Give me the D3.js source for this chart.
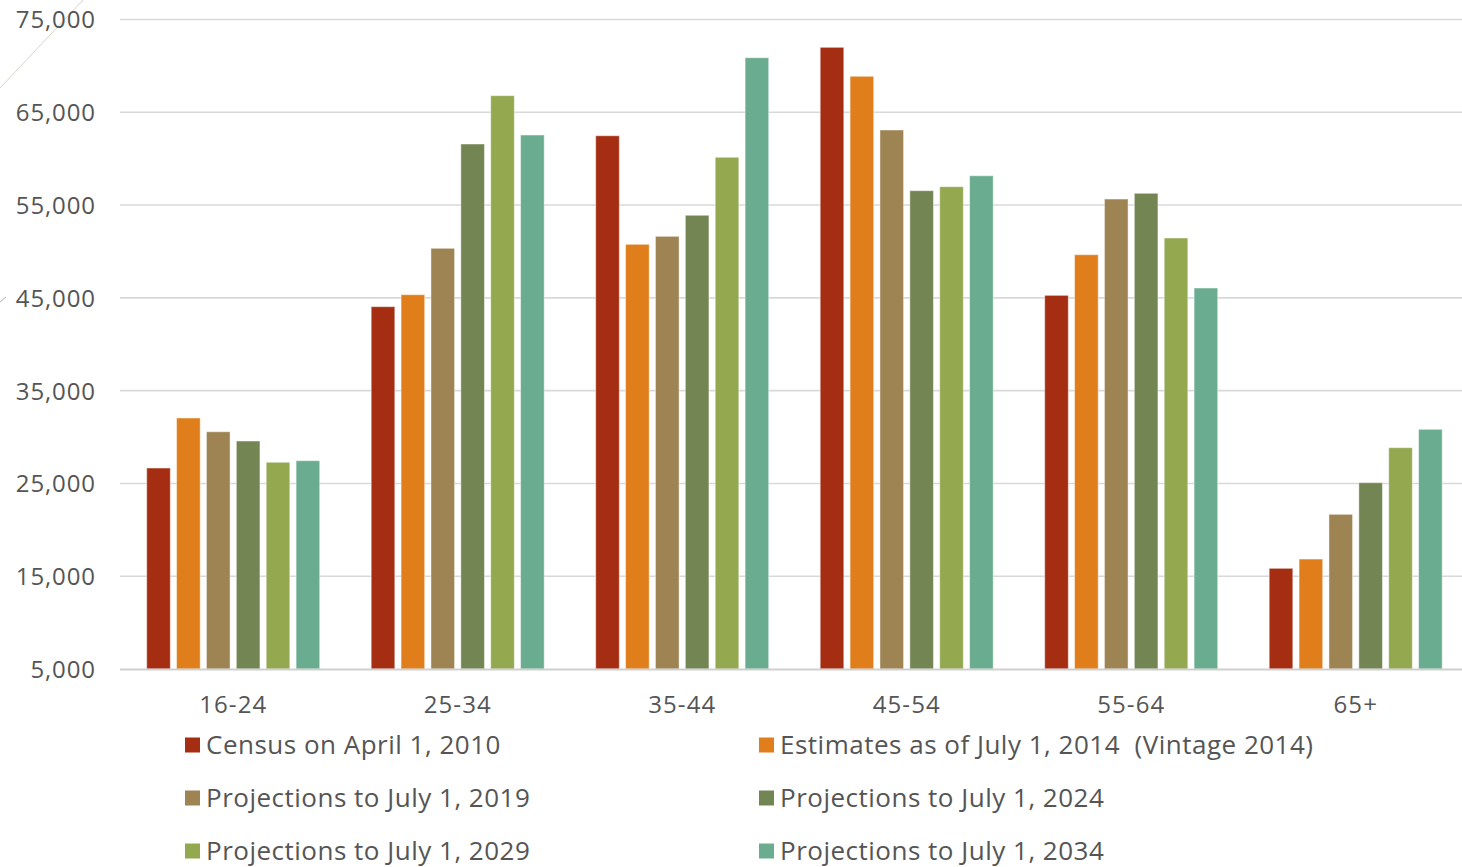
<!DOCTYPE html>
<html>
<head>
<meta charset="utf-8">
<script src="https://cdn.jsdelivr.net/npm/d3@7"></script>
<style>
  html, body { margin: 0; padding: 0; background: #ffffff; }
  svg { display: block; }
</style>
</head>
<body>
<svg id="chart" width="1462" height="867"></svg>
<script>
// ---- data ----
const categories = ["16-24", "25-34", "35-44", "45-54", "55-64", "65+"];
const seriesNames = [
  "Census on April 1, 2010",
  "Estimates as of July 1, 2014\u00a0\u00a0(Vintage 2014)",
  "Projections to July 1, 2019",
  "Projections to July 1, 2024",
  "Projections to July 1, 2029",
  "Projections to July 1, 2034"
];
const census2010   = [26660, 44050, 62470, 72000, 45270, 15850];
const estimate2014 = [32050, 45340, 50770, 68880, 49650, 16850];
const proj2019     = [30570, 50340, 51630, 63090, 55650, 21670];
const proj2024     = [29570, 61580, 53900, 56550, 56270, 25080];
const proj2029     = [27280, 66790, 60150, 56980, 51450, 28850];
const proj2034     = [27450, 62550, 70880, 58160, 46060, 30830];
const seriesValues = [census2010, estimate2014, proj2019, proj2024, proj2029, proj2034];
const colors = ["#A52E12", "#DF7E1A", "#9E8353", "#738553", "#93A84F", "#6AAC90"];
const yTicks = [5000, 15000, 25000, 35000, 45000, 55000, 65000, 75000];

// ---- layout ----
const svg = d3.select("#chart");
const plotLeft = 121, plotRight = 1462, yBottom = 669, yTop = 19.5;

const x0 = d3.scaleBand().domain(categories).range([plotLeft, plotLeft + 6 * 224.5]).padding(0);
const x1 = d3.scaleBand().domain(d3.range(seriesNames.length)).range([25.7, 198.7]).paddingInner(0.21).paddingOuter(0);
const y = d3.scaleLinear().domain([5000, 75000]).range([yBottom, yTop]);

// faint artifact lines on the left edge
svg.append("line").attr("x1", 0).attr("y1", 88).attr("x2", 83).attr("y2", 0)
  .attr("stroke", "#d8d2c8").attr("stroke-width", 1);
svg.append("line").attr("x1", 0).attr("y1", 302).attr("x2", 6).attr("y2", 297)
  .attr("stroke", "#b8b0a4").attr("stroke-width", 1);

// gridlines
const yAxis = d3.axisLeft(y).tickValues(yTicks).tickSize(0).tickPadding(0)
  .tickFormat(d3.format(","));
const gy = svg.append("g");
gy.selectAll("line.grid").data(yTicks.filter(d => d !== 5000)).join("line")
  .attr("class", "grid")
  .attr("x1", plotLeft - 1).attr("x2", plotRight)
  .attr("y1", d => y(d)).attr("y2", d => y(d))
  .attr("stroke", "#d9d9d9").attr("stroke-width", 1.6);

// y tick labels via axis
const ya = svg.append("g").attr("transform", `translate(96,0)`).call(yAxis);
ya.select(".domain").remove();
ya.selectAll("text")
  .attr("font-family", "'Open Sans', Roboto, sans-serif")
  .attr("font-size", 24)
  .attr("fill", "#555555")
  .attr("letter-spacing", 0.9)
  .attr("dy", "0.35em");

// bars
const groups = svg.append("g").selectAll("g").data(categories).join("g")
  .attr("transform", d => `translate(${x0(d)},0)`);
groups.selectAll("rect")
  .data((c, ci) => seriesValues.map((vals, si) => ({ si, v: vals[ci] })))
  .join("rect")
  .attr("x", d => x1(d.si))
  .attr("width", x1.bandwidth())
  .attr("y", d => y(d.v))
  .attr("height", d => y(5000) - y(d.v))
  .attr("fill", d => colors[d.si])
  .attr("stroke", "rgba(255,255,255,0.45)")
  .attr("stroke-width", 1);

// x axis baseline
svg.append("line").attr("x1", plotLeft - 1).attr("x2", plotRight)
  .attr("y1", yBottom + 0.5).attr("y2", yBottom + 0.5)
  .attr("stroke", "#d0d0d0").attr("stroke-width", 2);

// x axis labels
const xAxis = d3.axisBottom(x0).tickSize(0).tickPadding(0);
const xa = svg.append("g").attr("transform", `translate(0,${yBottom})`).call(xAxis);
xa.select(".domain").remove();
xa.selectAll("text")
  .attr("font-family", "'Open Sans', Roboto, sans-serif")
  .attr("font-size", 24)
  .attr("fill", "#555555")
  .attr("letter-spacing", 1.1)
  .attr("dy", 0)
  .attr("y", 44);

// legend
const legendCols = [185, 759];
const legendRows = [745, 798, 851];
const legend = svg.append("g").selectAll("g").data(seriesNames).join("g")
  .attr("transform", (d, i) => `translate(${legendCols[i % 2]},${legendRows[Math.floor(i / 2)]})`);
legend.append("rect").attr("x", 0).attr("y", -7.5).attr("width", 15).attr("height", 15)
  .attr("fill", (d, i) => colors[i]);
legend.append("text").attr("x", 21).attr("y", 0).attr("dy", "0.36em")
  .attr("font-family", "'Open Sans', Lato, sans-serif")
  .attr("font-size", 26)
  .attr("letter-spacing", 0.5)
  .attr("fill", "#555555")
  .text(d => d);
</script>
</body>
</html>
